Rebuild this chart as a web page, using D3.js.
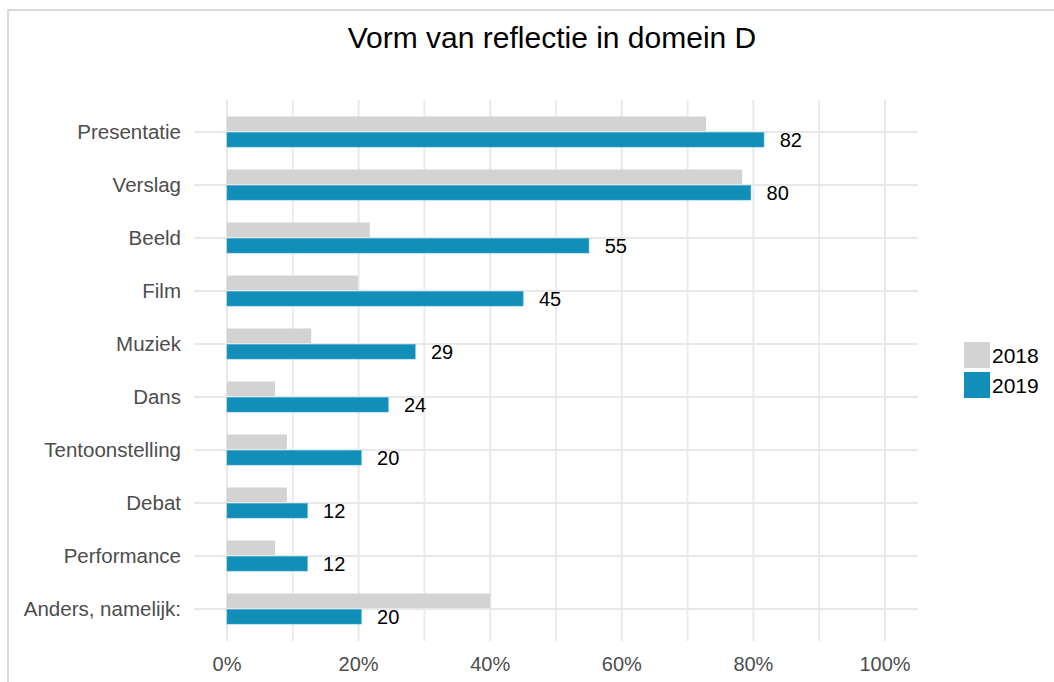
<!DOCTYPE html>
<html>
<head>
<script src="https://d3js.org/d3.v7.min.js"></script>
<style>
  html, body { margin: 0; padding: 0; background: #fff; }
  svg { display: block; font-family: "Liberation Sans", Arial, sans-serif; }
</style>
</head>
<body>
<div id="chart"></div>
<script>
  // data
  var categories = ["Presentatie", "Verslag", "Beeld", "Film", "Muziek", "Dans",
                    "Tentoonstelling", "Debat", "Performance", "Anders, namelijk:"];
  var years = ["2018", "2019"];
  var values2018 = [72.8, 78.3, 21.7, 19.9, 12.8, 7.3, 9.1, 9.1, 7.3, 40];
  var values2019 = [81.6, 79.6, 55, 45, 28.6, 24.5, 20.4, 12.2, 12.2, 20.4];
  var labels2019 = [82, 80, 55, 45, 29, 24, 20, 12, 12, 20];
  var xTicks = [0, 20, 40, 60, 80, 100];
  var xMinor = [10, 30, 50, 70, 90];
  var colors = ["#d3d3d3", "#118fb8"];

  var W = 1054, H = 682;
  var svg = d3.select("#chart").append("svg").attr("width", W).attr("height", H);

  // outer frame (top and left only visible)
  svg.append("line").attr("x1", 7).attr("x2", W).attr("y1", 10).attr("y2", 10)
    .attr("stroke", "#d9d9d9").attr("stroke-width", 2);
  svg.append("line").attr("x1", 8).attr("x2", 8).attr("y1", 10).attr("y2", H)
    .attr("stroke", "#d9d9d9").attr("stroke-width", 2);

  svg.append("text").attr("x", 552).attr("y", 48).attr("text-anchor", "middle")
    .attr("font-size", 30).attr("fill", "#000").text("Vorm van reflectie in domein D");

  var panel = {left: 194, right: 918, top: 100, bottom: 641};
  var x = d3.scaleLinear().domain([0, 100]).range([227, 885]);
  var y = d3.scalePoint().domain(categories).range([132, 609]);

  var g = svg.append("g");

  // grid
  g.selectAll(".vminor").data(xMinor).enter().append("line")
    .attr("x1", d => x(d)).attr("x2", d => x(d))
    .attr("y1", panel.top).attr("y2", panel.bottom)
    .attr("stroke", "#ececec").attr("stroke-width", 2);
  g.selectAll(".vmajor").data(xTicks).enter().append("line")
    .attr("x1", d => x(d)).attr("x2", d => x(d))
    .attr("y1", panel.top).attr("y2", panel.bottom)
    .attr("stroke", "#e8e8e8").attr("stroke-width", 2);
  g.selectAll(".hgrid").data(categories).enter().append("line")
    .attr("x1", panel.left).attr("x2", panel.right)
    .attr("y1", d => y(d)).attr("y2", d => y(d))
    .attr("stroke", "#e8e8e8").attr("stroke-width", 2);

  var barH = 14.5;
  // 2018 bars
  g.selectAll(".b18").data(categories).enter().append("rect")
    .attr("x", x(0)).attr("y", d => y(d) - barH - 1)
    .attr("width", (d, i) => x(values2018[i]) - x(0)).attr("height", barH)
    .attr("fill", colors[0]);
  // 2019 bars
  g.selectAll(".b19").data(categories).enter().append("rect")
    .attr("x", x(0)).attr("y", d => y(d) + 0.5)
    .attr("width", (d, i) => x(values2019[i]) - x(0)).attr("height", barH)
    .attr("fill", colors[1]).attr("stroke", "#3aa6c9").attr("stroke-width", 0.6);

  g.selectAll(".lbl").data(categories).enter().append("text")
    .attr("x", (d, i) => x(values2019[i] + 2.4)).attr("y", d => y(d) + 15)
    .attr("font-size", 20).attr("fill", "#000")
    .text((d, i) => labels2019[i]);

  // y labels
  g.selectAll(".ylab").data(categories).enter().append("text")
    .attr("x", 181).attr("y", d => y(d) + 7).attr("text-anchor", "end")
    .attr("font-size", 20.5).attr("fill", "#4d4d4d").text(d => d);

  // x axis labels
  g.selectAll(".xlab").data(xTicks).enter().append("text")
    .attr("x", d => x(d)).attr("y", 671).attr("text-anchor", "middle")
    .attr("font-size", 20).attr("fill", "#4d4d4d").text(d => d + "%");

  // legend
  var leg = svg.append("g").selectAll("g").data(years).enter().append("g")
    .attr("transform", (d, i) => "translate(964," + (342 + i * 30) + ")");
  leg.append("rect").attr("width", 26).attr("height", 26)
    .attr("fill", (d, i) => colors[i]);
  leg.append("text").attr("x", 28).attr("y", 21).attr("font-size", 21)
    .attr("fill", "#000").text(d => d);
</script>
</body>
</html>
